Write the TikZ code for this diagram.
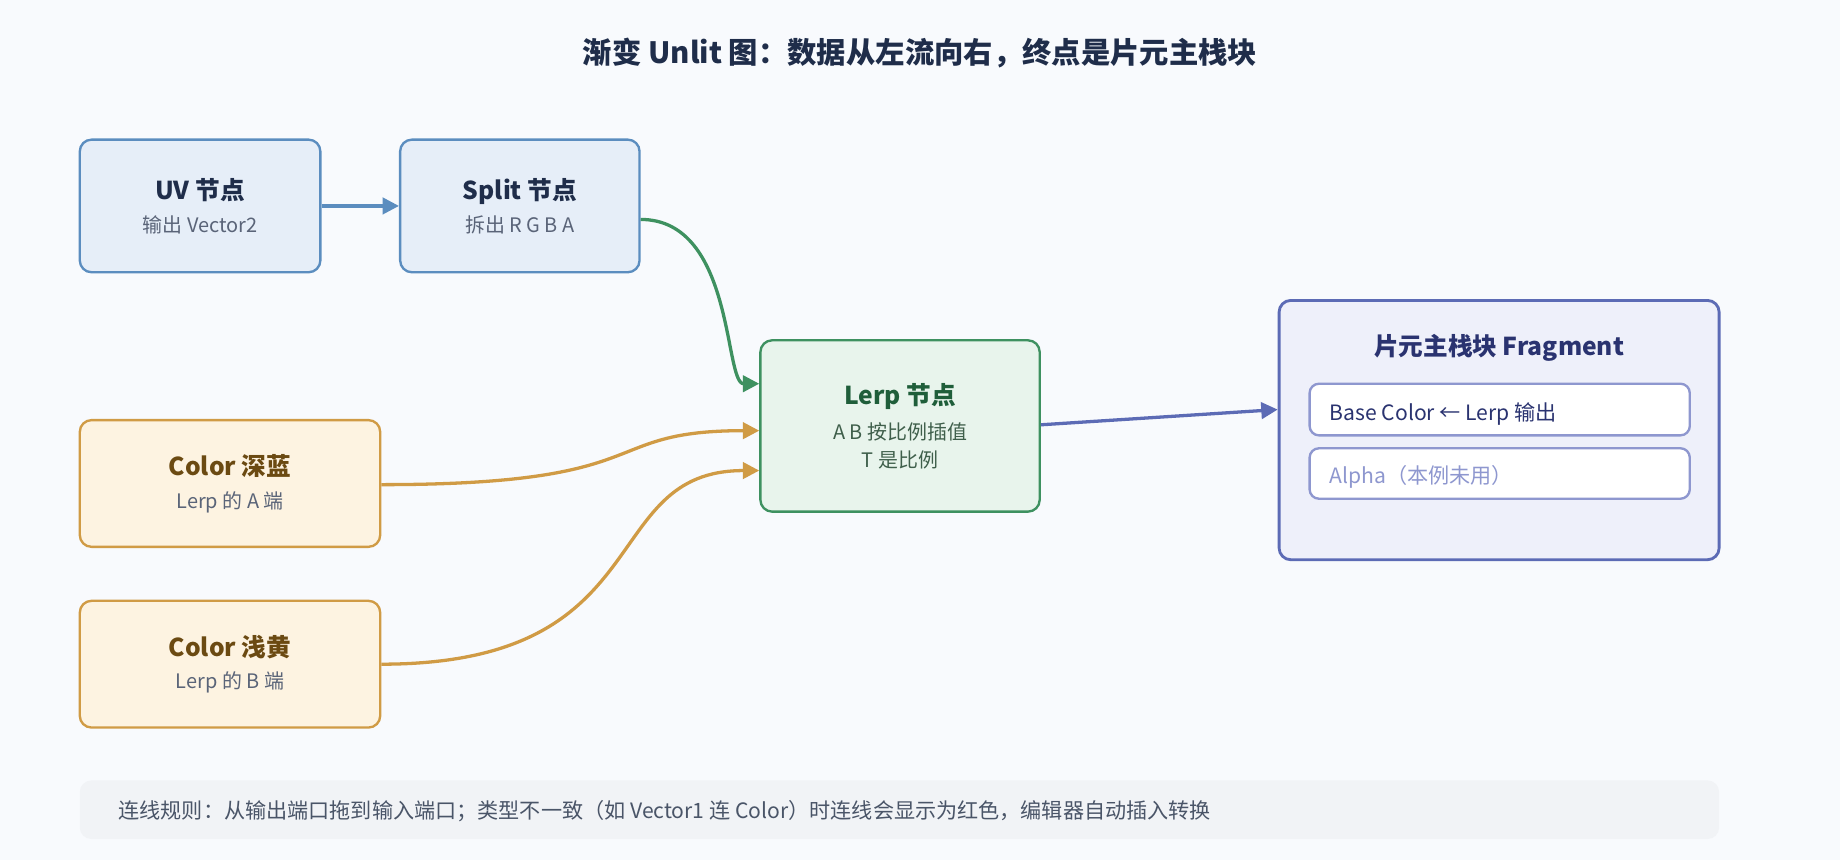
\documentclass[tikz,border=0pt]{standalone}
\usepackage{fontspec}
\setmainfont{Noto Sans CJK SC}
\usetikzlibrary{arrows.meta}
\definecolor{bgc}{HTML}{F8FAFD}
\definecolor{ink}{HTML}{1F2D4A}
\definecolor{subc}{HTML}{5A6478}
\definecolor{blueB}{HTML}{5B8DBF}\definecolor{blueF}{HTML}{E6EEF8}
\definecolor{greenB}{HTML}{3E9160}\definecolor{greenF}{HTML}{E8F4EC}\definecolor{greenT}{HTML}{1F5E3A}\definecolor{greenS}{HTML}{3F5F4B}
\definecolor{orangeB}{HTML}{D09B45}\definecolor{orangeF}{HTML}{FDF3E1}\definecolor{orangeT}{HTML}{6B4A12}
\definecolor{purpB}{HTML}{5C6BB5}\definecolor{purpF}{HTML}{EEF0FA}\definecolor{purpT}{HTML}{2A3370}\definecolor{purpL}{HTML}{8E97CF}
\definecolor{footF}{HTML}{F1F3F6}\definecolor{footT}{HTML}{4A5568}
\tikzset{
  box/.style={draw, line width=1pt, rounded corners=5pt, align=center, inner sep=0pt},
  bluebox/.style={box, draw=blueB, fill=blueF, text=ink},
  orangebox/.style={box, draw=orangeB, fill=orangeF, text=orangeT},
  link/.style={line width=1.4pt, -{Triangle[length=7pt,width=7pt]}},
}
\newcommand{\ttl}[1]{{\fontsize{10.5}{13}\selectfont\bfseries #1}}
\newcommand{\sub}[1]{{\fontsize{8.5}{13}\selectfont\color{subc}#1}}
\newcommand{\subg}[1]{{\fontsize{8.5}{13}\selectfont\color{greenS}#1}}
\begin{document}
\begin{tikzpicture}[x=0.5pt,y=-0.5pt]
\fill[bgc] (0,0) rectangle (1568,733);
\useasboundingbox (0,0) rectangle (1568,733);
\node[text=ink] (title) at (784,45) {\fontsize{12.5}{15}\selectfont\bfseries 渐变 Unlit 图：数据从左流向右，终点是片元主栈块};
% source nodes
\node[bluebox, minimum width=102.5pt, minimum height=56.5pt] (uv) at (170.5,175.5) {\ttl{UV 节点}\\[2pt]\sub{输出 Vector2}};
\node[bluebox, minimum width=102pt, minimum height=56.5pt] (split) at (443,175.5) {\ttl{Split 节点}\\[2pt]\sub{拆出 R G B A}};
\node[orangebox, minimum width=128pt, minimum height=54pt] (dark) at (196,412) {\ttl{Color 深蓝}\\[2pt]\sub{Lerp 的 A 端}};
\node[orangebox, minimum width=128pt, minimum height=54pt] (light) at (196,566) {\ttl{Color 浅黄}\\[2pt]\sub{Lerp 的 B 端}};
% lerp
\node[box, draw=greenB, fill=greenF, text=greenT, minimum width=119pt, minimum height=73pt] (lerp) at (767,363)
  {\ttl{Lerp 节点}\\[3pt]\subg{A B 按比例插值}\\\subg{T 是比例}};
% master stack
\node[box, draw=purpB, fill=purpF, line width=1.2pt, minimum width=187.5pt, minimum height=110.5pt] (frag) at (1277.5,366.5) {};
\node[text=purpT] (fragt) at (1277.5,296) {\ttl{片元主栈块 Fragment}};
\node[box, draw=purpL, fill=white, rounded corners=4pt, minimum width=162pt, minimum height=22pt] (base) at (1278,349) {};
\node[anchor=west, text=purpT, font=\fontsize{9}{11}\selectfont] (baset) at (1126,353) {Base Color ← Lerp 输出};
\node[box, draw=purpL, fill=white, rounded corners=4pt, minimum width=162pt, minimum height=21.5pt] (alpha) at (1278,403.5) {};
\node[anchor=west, text=purpL, font=\fontsize{9}{11}\selectfont] (alphat) at (1126,406) {Alpha（本例未用）};
% footer
\node[fill=footF, rounded corners=5pt, minimum width=698.5pt, minimum height=25pt] (foot) at (766.5,690) {};
\node[anchor=west, text=footT, font=\fontsize{9}{11}\selectfont] (foott) at (94,691) {连线规则：从输出端口拖到输入端口；类型不一致（如 Vector1 连 Color）时连线会显示为红色，编辑器自动插入转换};
% links
\draw[link, blueB] (uv) -- (split);
\draw[link, greenB] ([yshift=-5.75pt]split.east) .. controls +(40pt,0) and +(-15pt,0) .. ([yshift=18pt]lerp.west);
\draw[link, orangeB] ([yshift=-0.5pt]dark.east) .. controls +(120pt,0) and +(-70pt,0) .. ([yshift=-2pt]lerp.west);
\draw[link, orangeB] (light.east) .. controls +(120pt,0) and +(-70pt,0) .. ([yshift=-19pt]lerp.west);
\draw[link, purpB] ([yshift=0.5pt]lerp.east) -- ([yshift=8.75pt]frag.west);
\end{tikzpicture}
\end{document}
